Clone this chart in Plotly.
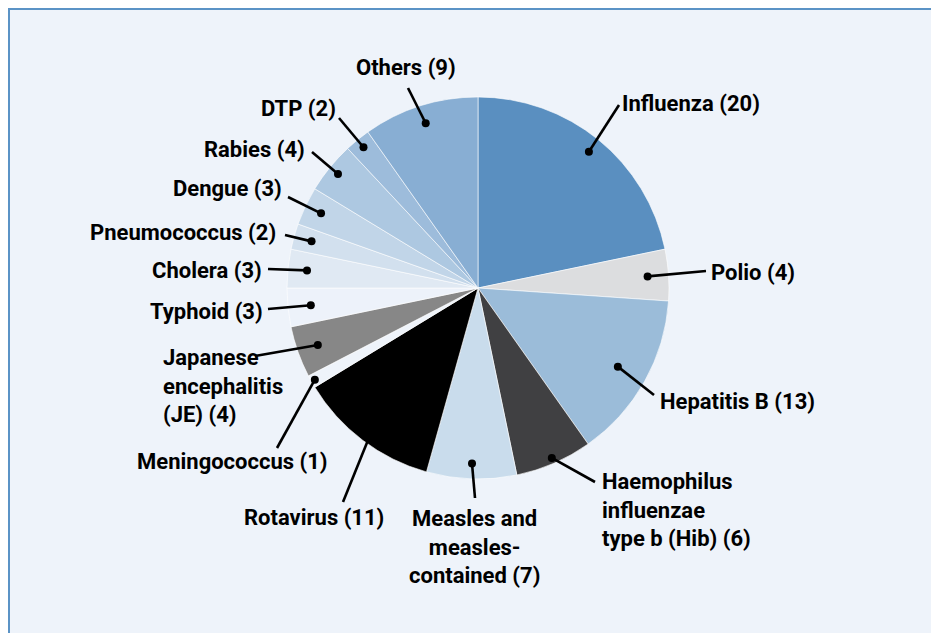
import math
import plotly.graph_objects as go

# ---------------- data ----------------
names = ["Influenza", "Polio", "Hepatitis B", "Haemophilus<br>influenzae<br>type b (Hib)",
         "Measles and<br>measles-<br>contained", "Rotavirus", "Meningococcus",
         "Japanese<br>encephalitis<br>(JE)", "Typhoid", "Cholera", "Pneumococcus",
         "Dengue", "Rabies", "DTP", "Others"]
values = [20, 4, 13, 6, 7, 11, 1, 4, 3, 3, 2, 3, 4, 2, 9]
colors = ["#5a8fc0", "#dcdddf", "#9bbcd9", "#404042", "#c9dcec", "#000000", "#eef3fa",
          "#878787", "#edf2fa", "#e0e9f3", "#d2e0ee", "#c1d5e8", "#adc8e1", "#9dbcdb", "#88aed3"]

# ---------------- layout / styling ----------------
PAGE = 8  # browser body margin: figure starts 8px into the window
W, H = 939 - PAGE, 633 - PAGE
CX, CY, R = 478, 288, 191   # window pixel coordinates
BG = "#eef3fa"

# per-slice: dot radius factor, leader end (window px), label anchor (window px), xanchor
dot_r = [0.92, 0.89, 0.84, 0.97, 0.92, 0.90, 0.98, 0.89, 0.88, 0.90, 0.905, 0.91, 0.945, 0.95, 0.905]
line_end = [(619, 105), (706, 271), (654, 395), (595, 482), (475, 498), (343, 502), (277, 448),
            (255, 356), (268, 309), (268, 269), (285, 235), (288, 197), (312, 152), (339, 118),
            (408, 88)]
label_pos = [(620, 103, "left"), (709, 272, "left"), (658, 401, "left"), (600, 510, "left"),
             (474, 547, "center"), (314, 517, "center"), (330, 461, "right"), (161, 386, "left"),
             (265, 311, "right"), (264, 270, "right"), (278, 232, "right"), (284, 188, "right"),
             (307, 149, "right"), (338, 109, "right"), (406, 68, "center")]

FONT = dict(family="Roboto, Liberation Sans, sans-serif", size=22,
            color="#000000", weight="bold")


def px(x):
    return (x - PAGE) / W


def py(y):
    return 1 - (y - PAGE) / H


fig = go.Figure()
fig.add_trace(go.Pie(
    labels=[n.replace("<br>", " ") for n in names],
    values=values,
    sort=False,
    direction="clockwise",
    rotation=0,
    textinfo="none",
    hoverinfo="label+value",
    marker=dict(colors=colors, line=dict(color="#ffffff", width=0.6)),
    domain=dict(x=[px(CX - R), px(CX + R)], y=[py(CY + R), py(CY - R)]),
    showlegend=False,
))

shapes = [dict(type="rect", xref="paper", yref="paper", x0=px(PAGE + 0.5), x1=px(W + 40),
               y0=py(H + 40), y1=py(PAGE + 0.5), line=dict(color="#5b93c6", width=3),
               fillcolor=BG, layer="below")]
annotations = []
total = sum(values)
cum = 0
for i, v in enumerate(values):
    mid = (cum + v / 2) / total * 2 * math.pi
    cum += v
    dx = CX + dot_r[i] * R * math.sin(mid)
    dy = CY - dot_r[i] * R * math.cos(mid)
    ex, ey = line_end[i]
    shapes.append(dict(type="line", xref="paper", yref="paper", x0=px(dx), y0=py(dy),
                       x1=px(ex), y1=py(ey), line=dict(color="#000000", width=2.6)))
    rr = 4
    shapes.append(dict(type="circle", xref="paper", yref="paper", x0=px(dx - rr), x1=px(dx + rr),
                       y0=py(dy + rr), y1=py(dy - rr), fillcolor="#000000",
                       line=dict(color="#000000", width=0)))
    lx, ly, anc = label_pos[i]
    annotations.append(dict(text=f"{names[i]} ({v})", xref="paper", yref="paper",
                            x=px(lx), y=py(ly), xanchor=anc, yanchor="middle", align=anc,
                            showarrow=False, font=FONT))

fig.update_layout(
    width=W, height=H,
    margin=dict(l=0, r=0, t=0, b=0),
    paper_bgcolor="#ffffff",
    shapes=shapes,
    annotations=annotations,
)

fig.write_html("out.html")
